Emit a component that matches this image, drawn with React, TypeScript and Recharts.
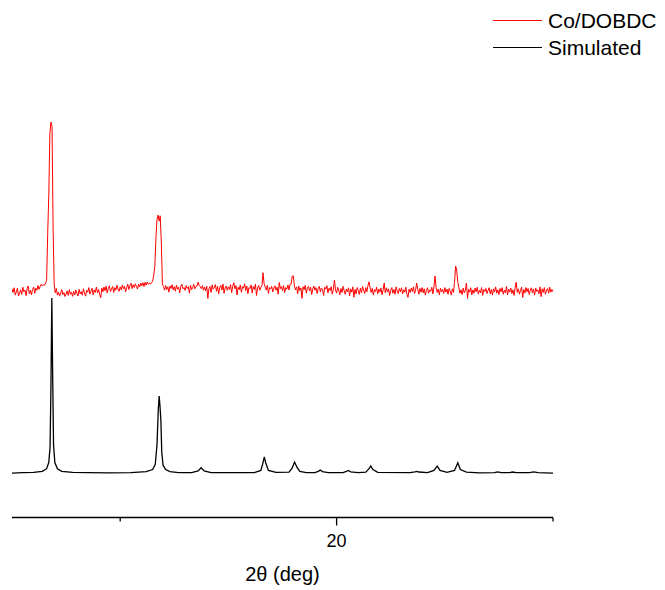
import { Line, LineChart, XAxis, YAxis } from "recharts";

const FONT = "'Liberation Sans', Arial, Helvetica, sans-serif";

// simulated pattern: 2-theta (deg) and relative intensity (strongest peak = 100)
const SIM_ANGLES = [
  5.0, 5.5, 6.0, 6.4, 6.6, 6.7, 6.76, 6.8, 6.84, 6.88, 6.92, 6.98, 7.1, 7.3, 7.8, 8.5, 9.5,
  10.5, 11.2, 11.5, 11.62, 11.7, 11.76, 11.8, 11.84, 11.88, 11.92, 11.98, 12.1, 12.3, 12.7,
  13.3, 13.6, 13.74, 13.88, 14.2, 16.2, 16.5, 16.6, 16.66, 16.72, 16.85, 17.2, 17.8, 17.95,
  18.06, 18.16, 18.3, 18.6, 19.0, 19.15, 19.24, 19.35, 19.6, 20.3, 20.45, 20.54, 20.65, 21.0,
  21.35, 21.5, 21.58, 21.68, 21.9, 23.4, 23.62, 23.71, 23.8, 24.2, 24.5, 24.65, 24.78, 25.1,
  25.45, 25.6, 25.72, 26.0, 26.6, 27.3, 27.44, 27.6, 28.0, 28.13, 28.3, 28.9, 29.12, 29.3, 30.0,
];
const SIM_INTENSITY = [
  0, 0.2, 0.4, 1.0, 2.5, 6, 15, 50, 100, 55, 16, 6, 2.5, 1.0, 0.4, 0.2, 0.1,
  0.3, 0.8, 2, 5, 16, 36, 44, 38, 30, 12, 4.5, 2, 0.8, 0.3,
  0.3, 1.2, 3.0, 1.2, 0.3, 0.3, 1.5, 6, 9.3, 6, 1.5, 0.4, 0.5, 3,
  6.3, 3.5, 1, 0.3, 0.3, 1, 1.7, 0.8, 0.2, 0.2, 0.9, 1.5, 0.7, 0.2,
  0.5, 2.5, 4.0, 2, 0.4, 0.2, 0.7, 1.0, 0.6, 0.3, 1.5, 4.0, 1.5, 0.4,
  1.5, 5.9, 2, 0.5, 0.1, 0.2, 0.7, 0.2, 0.2, 0.6, 0.2, 0.2, 0.7, 0.2, 0,
];

// measured Co/DOBDC pattern, 5.00 to 30.00 deg in 0.05 deg steps, same intensity scale
const CO_START = 5;
const CO_STEP = 0.05;
const CO_INTENSITY = [
  1.2, -0.8, 1.9, -2.3, -0.5, 1.6, -2.8, -1.1, 0.7, -1.9, 2.2, -0.3, 0.6, -2.6, 1.4, 2.9, -1.5, 0.4, -2.1, 1.0,
  2.3, -1.2, 1.7, 0.5, 3.2, 1.0, 2.6, 3.8, 2.9, 3.6, 3.4, 4.6, 6, 33, 55, 90, 96.6, 94, 35, 4,
  -1.0, 1.5, -2.3, -0.6, -2.9, -1.2, 0.8, -2.0, -0.9, -3.1, -1.6, 0.1, -2.5, 0.9, -1.8, -0.7, -3.0, -0.2, -2.2, 0.6,
  -1.4, -2.8, 1.0, -1.6, -0.3, -2.4, 1.3, -1.2, -2.9, 0.4, -0.6, 2.0, -1.7, 0.1, 1.6, -2.2, 0.7, -0.8, 2.3, -1.0,
  0.9, -1.8, -3.8, 1.7, -0.4, 2.3, 0.2, 2.8, -1.0, 1.5, 3.0, -0.3, 1.1, 2.6, -0.8, 2.0, 0.5, 3.3, 1.2, -0.1,
  2.4, 0.6, 3.5, 1.3, 2.8, -0.4, 1.8, 3.9, 0.9, 3.1, 4.5, 1.4, 3.6, 2.0, 4.2, 2.6, 1.2, 4.0, 2.3, 4.6,
  3.0, 4.8, 2.6, 5.0, 3.3, 5.2, 3.9, 4.6, 4.0, 4.8, 5.8, 9, 14, 30, 41, 43.4, 40, 43, 28, 4,
  2.6, 0.5, 3.2, 0.9, 2.4, -0.6, 2.9, 1.5, 3.6, 0.7, 2.5, -0.1, 3.4, 1.1, 2.2, -1.0, 2.7, 3.9, 1.3, 2.0,
  0.4, 3.1, 1.5, 2.5, -1.2, 3.3, 0.9, 2.1, 3.8, 1.3, 2.7, 2.9, 5.1, 3.2, 2.5, 1.4, 3.1, 0.5, 2.3, 0.2,
  2.8, -4.2, 1.5, 2.6, -0.8, 3.5, 1.1, 2.2, 3.7, -0.1, 2.7, -1.6, 2.0, 3.3, 0.6, 4.0, -1.3, 1.8, 2.9, 0.4,
  2.4, 1.0, 3.7, -0.9, 2.8, 4.8, 1.3, 3.1, -2.2, 2.2, 0.8, 3.5, -0.7, 2.6, 1.6, 4.2, 0.3, 2.9, -1.5, 2.0,
  1.4, 3.5, -1.1, 2.6, 1.0, 3.9, -2.5, 1.8, 3.2, 0.5, 2.2, 3.0, 10.5, 4.2, 2.4, 0.6, 3.3, -1.3, 2.0, 1.2,
  2.7, -0.5, 1.7, 3.0, 0.5, 2.2, -1.8, 4.9, 1.4, 2.6, 0.3, 3.1, -0.9, 2.0, 1.1, 3.5, 0.6, 3.9, 4.0, 8.6,
  8.7, 3.0, 0.7, 2.4, -1.6, 2.9, 0.3, 1.8, -4.2, 2.5, 0.8, 3.3, -1.2, 1.6, 2.7, 0.1, 2.2, -2.0, 1.3, 2.9,
  0.5, 2.0, -1.4, 1.5, 2.7, -0.5, 1.8, 0.7, -2.5, 2.2, 1.1, 3.1, -1.0, 1.6, 0.3, 2.5, -1.8, 0.9, 6.3, 0.6,
  -1.2, 2.2, 0.5, -2.1, 1.5, -0.8, 2.7, 0.2, -1.8, 1.1, -0.4, 1.9, -2.7, 1.3, -0.6, 2.4, -3.5, 0.9, -1.6, 2.0,
  0.4, -1.9, 1.7, -1.0, 2.6, 0.5, -1.4, 2.0, -0.4, 3.2, 5.3, 1.8, -0.8, 1.5, -2.3, 0.9, -0.2, 2.2, -1.6, 1.1,
  -0.6, 1.7, -2.1, 0.7, 4.6, -1.0, 1.9, -0.4, 1.3, -2.5, 0.5, 2.0, -1.2, 0.9, -1.8, 2.4, 0.0, -1.4, 1.5, -0.4,
  1.9, -1.6, 0.7, -0.6, 2.2, -1.9, -3.6, 1.1, -0.8, 1.7, -0.2, 2.4, -1.4, 0.5, 4.6, 0.9, -1.8, 1.5, -0.6, 2.0,
  -1.0, 1.3, -2.3, 0.4, 1.9, -1.2, 0.7, -0.2, 2.2, -1.6, 2.4, 8.6, 1.9, -0.8, 1.1, -2.1, 1.7, -0.4, 0.9, -1.4,
  2.0, -0.6, 1.1, -1.8, 1.5, 0.0, -2.3, 1.3, -0.8, 5.0, 14.3, 12.0, 5.0, 2.0, -1.2, 0.7, -2.0, 1.7, -1.0, 0.5,
  4.6, -4.2, 1.1, -0.6, 1.9, -2.1, 0.7, -1.2, 1.7, -0.4, 2.2, -1.8, 0.5, -1.0, 2.0, -2.5, 0.9, -0.2, 1.5, -1.4,
  0.4, 1.9, -1.6, 0.9, -2.3, 1.3, -0.6, 2.4, -1.2, 0.7, -2.0, 1.5, -0.4, 2.0, -1.8, 0.5, -1.0, 2.6, -2.1, 1.1,
  -0.6, 1.7, -1.4, 0.7, -2.5, 1.9, 5.0, -0.8, 1.3, -1.8, 0.4, 2.2, -3.6, 0.9, -1.2, 2.0, -0.4, 1.5, -1.9, 0.5,
  1.9, -1.0, 1.1, -2.3, 1.7, -0.2, 0.7, -1.6, 2.4, -3.2, 1.3, -0.8, 2.0, -1.8, 0.5, 1.5, -1.2, 2.2, -0.6, 0.9,
  -0.4,
];

const X_TICKS = [10, 20, 30];
const X_LABELED = [20];

const SERIES = [
  { name: "Co/DOBDC", color: "#ff0000" },
  { name: "Simulated", color: "#000000" },
];

// vertical stacking of the two patterns
const CO_OFFSET = 104;
const SIM_OFFSET = 0;

const simData = SIM_ANGLES.map((x, i) => ({ x, y: SIM_INTENSITY[i] + SIM_OFFSET }));
const coData = CO_INTENSITY.map((v, i) => ({
  x: +(CO_START + i * CO_STEP).toFixed(2),
  y: v + CO_OFFSET,
}));

function XTick({ x, y, payload }: any) {
  const labeled = X_LABELED.includes(payload.value);
  return (
    <g>
      <line x1={x} x2={x} y1={y} y2={y + (labeled ? 8 : 4)} stroke="#000" strokeWidth={1.3} />
      {labeled && (
        <text x={x} y={y + 29} textAnchor="middle" fontSize={18} fontFamily={FONT} fill="#000">
          {payload.value}
        </text>
      )}
    </g>
  );
}

function LegendBox() {
  return (
    <div
      style={{
        position: "absolute",
        top: 7,
        left: 493,
        fontFamily: FONT,
        fontSize: 21,
        color: "#000",
      }}
    >
      {SERIES.map((s) => (
        <div key={s.name} style={{ display: "flex", alignItems: "center", height: 27 }}>
          <svg width={49} height={3} style={{ display: "block" }}>
            <line x1={0} x2={49} y1={1.5} y2={1.5} stroke={s.color} strokeWidth={1} />
          </svg>
          <span style={{ marginLeft: 6, whiteSpace: "nowrap" }}>{s.name}</span>
        </div>
      ))}
    </div>
  );
}

export default function App() {
  return (
    <div style={{ position: "absolute", left: 0, top: 0, width: 665, height: 590, background: "#fff" }}>
      <LineChart
        width={665}
        height={590}
        margin={{ top: 117.5, right: 112, bottom: 42.5, left: 12 }}
      >
        <XAxis
          type="number"
          dataKey="x"
          domain={[5, 30]}
          ticks={X_TICKS}
          allowDataOverflow
          height={30}
          tickSize={0}
          tickMargin={0}
          tickLine={false}
          tick={<XTick />}
          axisLine={{ stroke: "#000", strokeWidth: 1.5 }}
          label={{
            value: "2θ (deg)",
            position: "bottom",
            offset: 19,
            fontSize: 20,
            fontFamily: FONT,
            fill: "#000",
          }}
        />
        <YAxis hide type="number" domain={[-25.4, 203.2]} allowDataOverflow />
        <Line
          data={simData}
          dataKey="y"
          type="linear"
          stroke="#000"
          strokeWidth={1.3}
          dot={false}
          isAnimationActive={false}
        />
        <Line
          data={coData}
          dataKey="y"
          type="linear"
          stroke="#ff0000"
          strokeWidth={1}
          dot={false}
          isAnimationActive={false}
        />
      </LineChart>
      <LegendBox />
    </div>
  );
}
